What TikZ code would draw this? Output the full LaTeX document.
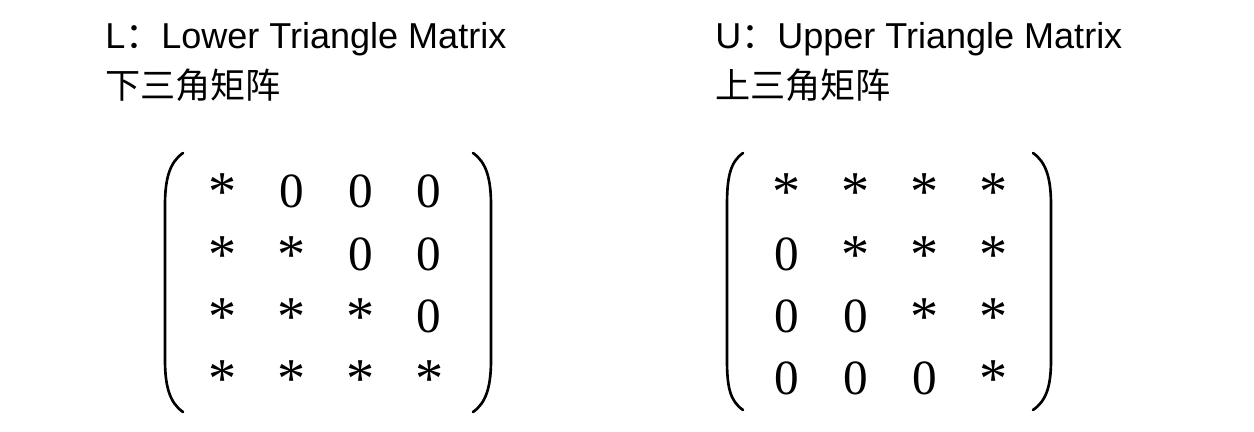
\documentclass[tikz,border=0pt]{standalone}
\usepackage{fontspec}
\setmainfont{Liberation Serif}
\newfontfamily\titlefont{Liberation Sans}
\newfontfamily\cjk{Noto Sans CJK SC}
\usetikzlibrary{positioning}
\tikzset{title/.style={anchor=base west,inner sep=0pt,font=\titlefont\fontsize{20.5}{24}\selectfont},
  subtitle/.style={anchor=base west,inner sep=0pt,font=\cjk\fontsize{20}{24}\selectfont},
  entry/.style={anchor=base,inner sep=0pt,font=\fontsize{28}{32}\selectfont},
  star/.style={entry,font=\fontsize{32}{36}\selectfont,yshift=-1.7pt},
  delim/.style={line width=1.5pt,line cap=round}}

\begin{document}
\begin{tikzpicture}[x=0.02cm,y=-0.02cm]
\useasboundingbox (0,0) rectangle (1254,432);
% titles
\node[title] (ltitle) at (105,49) {L{\cjk ：}Lower Triangle Matrix};
\node[subtitle] (lsub) at (105,99) {下三角矩阵};
\node[title] (utitle) at (715,49) {U{\cjk ：}Upper Triangle Matrix};
\node[subtitle] (usub) at (715,99) {上三角矩阵};
% entries
\foreach \i in {1,...,4}
  \foreach \j in {1,...,4} {
    \ifnum\j>\i
      \node[entry] (L\i\j) at ({223+68.7*(\j-1)},{208+62.3*(\i-1)}) {0};
    \else
      \node[star] (L\i\j) at ({223+68.7*(\j-1)},{208+62.3*(\i-1)}) {*};
    \fi
    \ifnum\j<\i
      \node[entry] (U\i\j) at ({787+69*(\j-1)},{208+62.3*(\i-1)}) {0};
    \else
      \node[star] (U\i\j) at ({787+69*(\j-1)},{208+62.3*(\i-1)}) {*};
    \fi
  }
% brackets
\draw[delim] (183,153) .. controls (170,162) and (165,178) .. (165,205) -- (165,360) .. controls (165,387) and (170,403) .. (183,412);
\draw[delim] (473,153) .. controls (486,162) and (491,178) .. (491,205) -- (491,360) .. controls (491,387) and (486,403) .. (473,412);
\draw[delim] (743,153) .. controls (730,162) and (727,178) .. (727,205) -- (727,360) .. controls (727,387) and (730,401) .. (743,410);
\draw[delim] (1033,153) .. controls (1046,162) and (1051,178) .. (1051,205) -- (1051,360) .. controls (1051,387) and (1046,401) .. (1033,410);
\end{tikzpicture}
\end{document}
